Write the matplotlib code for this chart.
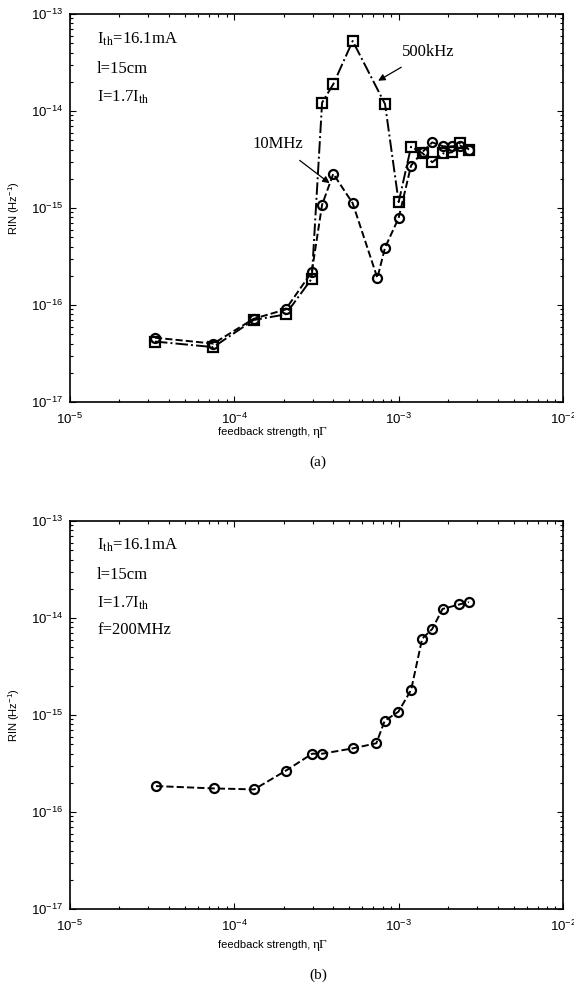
import matplotlib
matplotlib.use("Agg")
import matplotlib.pyplot as plt
from matplotlib.ticker import LogLocator, NullFormatter

plt.rcParams["mathtext.fontset"] = "custom"
plt.rcParams["mathtext.rm"] = "Liberation Sans"
plt.rcParams["mathtext.it"] = "Liberation Sans:italic"
plt.rcParams["mathtext.bf"] = "Liberation Sans:bold"
plt.rcParams["axes.unicode_minus"] = False

# ---- data (panel a) ----
x_10MHz = [3.29e-5, 7.45e-5, 1.31e-4, 2.05e-4, 2.96e-4, 3.42e-4, 4.0e-4, 5.25e-4,
           7.42e-4, 8.26e-4, 1.0e-3, 1.19e-3, 1.40e-3, 1.60e-3, 1.87e-3, 2.11e-3,
           2.36e-3, 2.68e-3]
y_10MHz = [4.6e-17, 4.0e-17, 7.2e-17, 9.0e-17, 2.19e-16, 1.08e-15, 2.25e-15, 1.12e-15,
           1.90e-16, 3.90e-16, 7.9e-16, 2.74e-15, 3.8e-15, 4.75e-15, 4.32e-15, 4.32e-15,
           4.4e-15, 4.0e-15]
x_500kHz = [3.29e-5, 7.45e-5, 1.31e-4, 2.05e-4, 2.96e-4, 3.42e-4, 4.0e-4, 5.25e-4,
            8.26e-4, 1.0e-3, 1.19e-3, 1.40e-3, 1.60e-3, 1.87e-3, 2.11e-3, 2.36e-3,
            2.68e-3]
y_500kHz = [4.2e-17, 3.68e-17, 7.0e-17, 8.0e-17, 1.87e-16, 1.22e-14, 1.89e-14, 5.27e-14,
            1.18e-14, 1.15e-15, 4.29e-15, 3.66e-15, 2.96e-15, 3.66e-15, 3.75e-15,
            4.68e-15, 4.0e-15]

# ---- data (panel b) ----
x_200MHz = [3.34e-5, 7.49e-5, 1.32e-4, 2.06e-4, 2.98e-4, 3.43e-4, 5.30e-4, 7.31e-4,
            8.23e-4, 9.96e-4, 1.19e-3, 1.39e-3, 1.60e-3, 1.85e-3, 2.34e-3, 2.67e-3]
y_200MHz = [1.85e-16, 1.75e-16, 1.71e-16, 2.67e-16, 3.99e-16, 3.99e-16, 4.54e-16,
            5.11e-16, 8.73e-16, 1.08e-15, 1.81e-15, 6.12e-15, 7.70e-15, 1.24e-14,
            1.38e-14, 1.46e-14]

xlim = (1e-5, 1e-2)
ylim = (1e-17, 1e-13)
ylabel = "RIN (Hz$^{-1}$)"

serif = "Liberation Serif"
sans = "Liberation Sans"

fig = plt.figure(figsize=(5.74, 9.96), dpi=100)
W, H = 574, 996


def make_ax(top_px, bottom_px):
    left, right = 70, 563
    return fig.add_axes([left / W, 1 - bottom_px / H, (right - left) / W,
                         (bottom_px - top_px) / H])


def style(ax):
    ax.set_xscale("log")
    ax.set_yscale("log")
    ax.set_xlim(*xlim)
    ax.set_ylim(*ylim)
    ax.xaxis.set_major_locator(LogLocator(base=10, numticks=10))
    ax.yaxis.set_major_locator(LogLocator(base=10, numticks=10))
    ax.xaxis.set_minor_locator(LogLocator(base=10, subs=range(2, 10), numticks=20))
    ax.yaxis.set_minor_locator(LogLocator(base=10, subs=range(2, 10), numticks=20))
    ax.xaxis.set_minor_formatter(NullFormatter())
    ax.yaxis.set_minor_formatter(NullFormatter())
    ax.tick_params(which="both", direction="in", top=True, right=True,
                   labelsize=9.5, width=0.8)
    ax.tick_params(axis="x", pad=7)
    ax.tick_params(axis="y", pad=5)
    ax.tick_params(which="major", length=4)
    ax.tick_params(which="minor", length=2)
    for lbl in ax.get_xticklabels() + ax.get_yticklabels():
        lbl.set_fontfamily(sans)
    for s in ax.spines.values():
        s.set_linewidth(1.2)
    ax.set_ylabel(ylabel, fontsize=8, family=sans, labelpad=6)


def xlab(y_px, tag, tag_y_px):
    fig.text(313 / W, 1 - y_px / H, "feedback strength, ",
             ha="right", va="center", fontsize=8, family=sans)
    fig.text(313 / W, 1 - y_px / H, "ηΓ",
             ha="left", va="center", fontsize=9.5, family=serif)
    fig.text(318 / W, 1 - tag_y_px / H, tag, ha="center",
             va="center", fontsize=11, family=serif)


mk = dict(markerfacecolor="none", markeredgecolor="black", markeredgewidth=1.6,
          color="black", linewidth=1.4)

# ---- panel (a) ----
ax1 = make_ax(14, 402)
ax1.plot(x_500kHz, y_500kHz, linestyle="-.", marker="s", markersize=7, **mk)
ax1.plot(x_10MHz, y_10MHz, linestyle="--", marker="o", markersize=6.5, **mk)
style(ax1)
xlab(432, "(a)", 462)

tkw = dict(transform=ax1.transAxes, fontsize=12, family=serif, va="center", ha="left")
ax1.text(27 / 493, 1 - 25 / 389, "I$_{\\rm th}$=16.1mA", math_fontfamily="stix", **tkw)
ax1.text(27 / 493, 1 - 55 / 389, "l=15cm", **tkw)
ax1.text(27 / 493, 1 - 84 / 389, "I=1.7I$_{\\rm th}$", math_fontfamily="stix", **tkw)

ax1.annotate("10MHz", xy=(3.8e-4, 1.8e-15), xytext=(1.84e-4, 4.6e-15),
             fontsize=12, family=serif, ha="center", va="center",
             arrowprops=dict(arrowstyle="-|>", color="black", lw=0.9,
                             shrinkA=7, shrinkB=0, mutation_scale=10))
ax1.annotate("500kHz", xy=(7.5e-4, 2.05e-14), xytext=(1.51e-3, 4.1e-14),
             fontsize=12, family=serif, ha="center", va="center",
             arrowprops=dict(arrowstyle="-|>", color="black", lw=0.9,
                             shrinkA=7, shrinkB=0, mutation_scale=10))

# ---- panel (b) ----
ax2 = make_ax(521, 909)
ax2.plot(x_200MHz, y_200MHz, linestyle="--", marker="o", markersize=6.5, **mk)
style(ax2)
xlab(945, "(b)", 975)

tkw2 = dict(transform=ax2.transAxes, fontsize=12, family=serif, va="center", ha="left")
ax2.text(27 / 493, 1 - 24 / 388, "I$_{\\rm th}$=16.1mA", math_fontfamily="stix", **tkw2)
ax2.text(27 / 493, 1 - 54 / 388, "l=15cm", **tkw2)
ax2.text(27 / 493, 1 - 82 / 388, "I=1.7I$_{\\rm th}$", math_fontfamily="stix", **tkw2)
ax2.text(27 / 493, 1 - 109 / 388, "f=200MHz", **tkw2)

fig.savefig("out.png", dpi=100)
